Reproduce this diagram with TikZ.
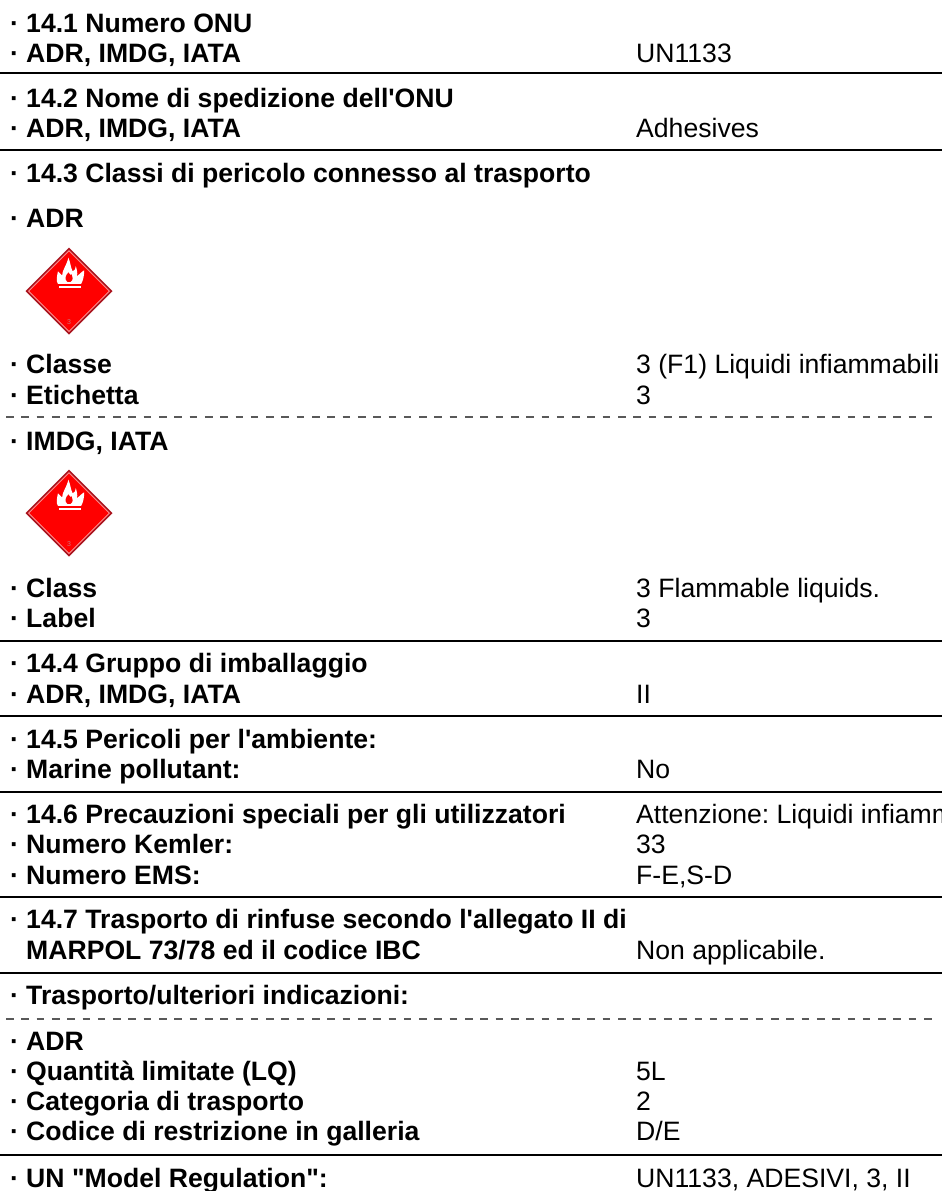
\documentclass[tikz,border=0pt]{standalone}
\usepackage{fontspec}
\setmainfont{Liberation Sans}[Ligatures=TeXOff]
\definecolor{hazred}{RGB}{255,0,0}
\definecolor{hazdark}{RGB}{170,20,30}
\newcommand{\hazmark}[3]{%
\begin{scope}[shift={(#1,#2)}]
\fill[hazdark] (0,-43.5) -- (43.5,0) -- (0,43.5) -- (-43.5,0) -- cycle;
\fill[white!55!red] (0,-41) -- (41,0) -- (0,41) -- (-41,0) -- cycle;
\fill[hazred] (0,-39.5) -- (39.5,0) -- (0,39.5) -- (-39.5,0) -- cycle;
\begin{scope}[shift={(0.5,-5)},scale=1.05]
\fill[white] (-11,-2) .. controls (-13,-5) and (-12,-9) .. (-11,-14) .. controls (-9,-12) and (-8,-11) .. (-7,-10) .. controls (-7,-15) and (-3,-19) .. (-1,-27) .. controls (1,-22) and (1,-18) .. (3,-14) .. controls (5,-14) and (6,-17) .. (6,-19) .. controls (7,-15) and (8,-13) .. (7,-9) .. controls (9,-11) and (11,-13) .. (14,-15) .. controls (14,-10) and (13,-5) .. (11,-2) -- cycle;
\fill[hazred] (-2,-4) .. controls (-5,-6) and (-4,-10) .. (-1,-13) .. controls (0,-11) and (1,-10) .. (2,-11) .. controls (3,-9) and (4,-6) .. (1,-4) -- cycle;
\fill[white] (-10,0.2) rectangle (11,1.8);
\end{scope}
\node[font=\fontsize{7}{7}\selectfont,text=hazdark!60!white,inner sep=0pt] (#3) at (0,31) {3};
\end{scope}}
\tikzset{
 x=1pt,y=-1pt,
 lab/.style={anchor=base west,inner sep=0pt,font=\fontsize{26.6}{30}\bfseries\selectfont\frenchspacing,text=black},
 val/.style={anchor=base west,inner sep=0pt,font=\fontsize{26.6}{30}\selectfont\frenchspacing,text=black},
 solidrule/.style={line width=2.2pt,black},
 dashrule/.style={line width=1.2pt,black!65,dash pattern=on 7.6pt off 7.7pt},
}
\begin{document}
\begin{tikzpicture}
\useasboundingbox (0,0) rectangle (942,1191);
\clip (0,0) rectangle (942,1191);
\fill[white] (0,0) rectangle (942,1191);
\foreach \y in {73,150,641,716,792,897,973,1155} \draw[solidrule] (0,\y) -- (942,\y);
\foreach \y in {417,1019} \draw[dashrule] (6,\y) -- (938,\y);
\hazmark{69}{291}{hz1}
\hazmark{69}{513}{hz2}
\def\lx{9.8}
\def\vx{636}
\node[lab] (a1) at (\lx,32) {· 14.1 Numero ONU};
\node[lab] (a2) at (\lx,62) {· ADR, IMDG, IATA};
\node[val] (v2) at (\vx,62) {UN1133};
\node[lab] (a3) at (\lx,107) {· 14.2 Nome di spedizione dell'ONU};
\node[lab] (a4) at (\lx,137) {· ADR, IMDG, IATA};
\node[val] (v4) at (\vx,137) {Adhesives};
\node[lab] (a5) at (\lx,182) {· 14.3 Classi di pericolo connesso al trasporto};
\node[lab] (a6) at (\lx,227) {· ADR};
\node[lab] (a7) at (\lx,373) {· Classe};
\node[val] (v7) at (\vx,373) {3 (F1) Liquidi infiammabili};
\node[lab] (a8) at (\lx,404) {· Etichetta};
\node[val] (v8) at (\vx,404) {3};
\node[lab] (a9) at (\lx,450) {· IMDG, IATA};
\node[lab] (a10) at (\lx,597) {· Class};
\node[val] (v10) at (\vx,597) {3 Flammable liquids.};
\node[lab] (a11) at (\lx,627) {· Label};
\node[val] (v11) at (\vx,627) {3};
\node[lab] (a12) at (\lx,672) {· 14.4 Gruppo di imballaggio};
\node[lab] (a13) at (\lx,703) {· ADR, IMDG, IATA};
\node[val] (v13) at (\vx,703) {II};
\node[lab] (a14) at (\lx,748) {· 14.5 Pericoli per l'ambiente:};
\node[lab] (a15) at (\lx,778) {· Marine pollutant:};
\node[val] (v15) at (\vx,778) {No};
\node[lab] (a16) at (\lx,823) {· 14.6 Precauzioni speciali per gli utilizzatori};
\node[val] (v16) at (\vx,823) {Attenzione: Liquidi infiammabili};
\node[lab] (a17) at (\lx,853) {· Numero Kemler:};
\node[val] (v17) at (\vx,853) {33};
\node[lab] (a18) at (\lx,884) {· Numero EMS:};
\node[val] (v18) at (\vx,884) {F-E,S-D};
\node[lab] (a19) at (\lx,928) {· 14.7 Trasporto di rinfuse secondo l'allegato II di};
\node[lab] (a20) at (26,959) {MARPOL 73/78 ed il codice IBC};
\node[val] (v20) at (\vx,959) {Non applicabile.};
\node[lab] (a21) at (\lx,1004) {· Trasporto/ulteriori indicazioni:};
\node[lab] (a22) at (\lx,1050) {· ADR};
\node[lab] (a23) at (\lx,1080) {· Quantità limitate (LQ)};
\node[val] (v23) at (\vx,1080) {5L};
\node[lab] (a24) at (\lx,1110) {· Categoria di trasporto};
\node[val] (v24) at (\vx,1110) {2};
\node[lab] (a25) at (\lx,1140) {· Codice di restrizione in galleria};
\node[val] (v25) at (\vx,1140) {D/E};
\node[lab] (a26) at (\lx,1187) {· UN "Model Regulation":};
\node[val] (v26) at (\vx,1187) {UN1133, ADESIVI, 3, II};
\end{tikzpicture}
\end{document}
